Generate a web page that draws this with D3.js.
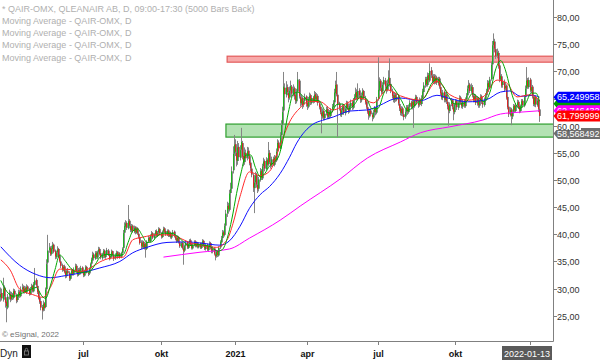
<!DOCTYPE html>
<html><head><meta charset="utf-8">
<script src="https://cdn.jsdelivr.net/npm/d3@7"></script>
<style>body{margin:0;background:#fff}svg{display:block;font-family:"Liberation Sans",Arial,sans-serif}</style>
</head><body><svg id="c" width="600" height="360"></svg>
<script>
// ---- daily OHLC (QAIR-OMX), bar 0 ~ late Mar 2020, last bar 2022-01-13 ----
const opens=[
28.4,29.2,28.0,30.2,28.4,27.6,26.5,28.8,29.0,28.1,
28.9,28.3,29.6,28.8,27.9,28.5,29.4,28.6,29.9,30.3,
29.4,30.1,29.3,30.4,29.9,29.0,30.0,30.5,29.5,30.7,
31.6,30.5,29.5,28.4,27.7,26.6,26.1,27.3,26.6,29.9,
34.8,37.1,37.5,36.4,37.3,38.1,36.9,35.8,36.7,37.3,
36.1,35.0,34.3,33.4,34.1,33.2,32.3,33.3,32.9,31.8,
32.5,33.4,32.6,33.4,34.2,33.3,32.5,33.5,32.8,33.9,
33.2,32.4,33.3,34.0,32.9,32.8,33.7,34.6,35.2,36.3,
35.5,36.6,35.7,36.8,37.3,36.5,35.6,36.4,37.0,35.8,
36.3,37.0,36.3,35.7,35.9,36.9,36.1,35.6,36.0,36.7,
36.0,36.5,35.9,36.6,37.5,40.3,41.4,42.1,41.1,42.5,
41.5,40.7,41.6,40.5,41.3,40.3,41.1,40.1,39.5,38.5,
37.7,38.6,37.5,38.3,37.3,38.7,39.4,38.7,39.8,40.2,
39.3,40.0,40.6,39.7,40.4,41.0,40.1,39.5,40.5,41.1,
40.6,39.9,40.7,39.7,40.3,39.4,40.0,40.5,39.6,39.3,
38.7,39.5,38.5,37.7,38.4,37.4,37.0,37.9,38.5,37.5,
38.1,38.9,38.2,37.4,38.1,38.7,37.8,38.4,37.6,38.3,
37.5,38.2,38.8,37.9,37.3,38.1,37.1,37.8,38.4,37.5,
36.8,37.4,36.3,36.0,36.9,36.1,37.6,38.5,39.3,40.4,
39.9,41.6,43.9,45.3,44.5,47.6,48.4,51.8,54.9,56.6,
55.0,53.5,56.1,54.1,55.6,56.8,54.4,53.3,55.0,54.1,
55.4,54.4,53.2,52.1,50.9,48.5,49.6,50.9,49.1,48.4,
50.0,51.7,50.3,52.6,53.5,52.0,53.7,52.9,55.0,53.2,
52.7,53.9,52.8,54.2,53.6,55.3,56.9,55.8,58.3,60.2,
62.8,67.0,65.7,67.1,66.0,65.2,66.5,67.2,65.8,66.9,
65.6,64.5,66.3,68.3,65.3,64.1,65.1,63.9,64.6,65.4,
64.2,63.5,64.9,65.6,64.2,65.2,64.5,65.8,64.8,65.5,
64.1,63.5,62.4,61.7,62.7,61.4,62.3,63.1,61.6,62.5,
61.8,62.9,63.4,64.3,66.0,67.6,65.7,64.1,63.1,62.0,
62.9,63.6,62.3,63.2,64.1,63.2,62.8,63.5,64.3,63.3,
64.7,65.2,66.2,65.1,66.5,65.5,64.7,65.6,66.4,65.0,
64.4,63.4,62.7,61.8,62.8,62.0,61.5,62.5,63.2,62.4,
64.9,66.5,68.3,66.9,66.3,67.6,68.3,67.2,66.6,67.9,
68.8,67.7,66.3,65.6,64.7,65.7,64.8,65.4,64.0,63.3,
62.3,63.2,62.1,61.7,62.6,63.4,62.5,63.5,64.3,63.4,
64.5,63.6,64.7,65.3,64.2,63.9,64.8,64.0,65.1,66.2,
67.5,68.6,67.5,69.3,68.3,70.2,69.2,68.1,69.1,68.0,
68.9,67.8,68.7,67.1,66.1,65.1,66.2,64.7,65.7,64.4,
63.7,62.7,64.0,64.7,63.4,62.5,63.9,64.6,63.3,64.3,
65.2,64.2,63.5,64.5,63.6,64.9,65.6,66.9,67.6,66.3,
67.1,65.5,64.7,65.5,64.1,65.0,63.7,64.7,65.4,64.3,
63.8,64.8,65.6,66.2,67.9,67.0,68.6,71.3,74.9,75.5,
74.1,72.9,73.4,71.1,68.5,69.1,67.5,68.0,66.9,67.4,
65.3,63.5,62.0,63.0,61.7,62.6,63.7,62.7,63.8,64.4,
63.6,62.7,63.5,64.6,63.7,65.3,66.9,68.4,67.1,68.5,
66.4,67.2,65.3,63.9,65.3,63.8,64.7,63.0];
const highs=[
30.2,30.0,32.0,30.6,29.0,28.0,29.0,29.8,29.5,29.4,
29.2,30.0,29.9,29.1,29.0,29.8,29.7,30.4,30.9,30.6,
30.5,30.4,30.8,30.6,30.1,30.3,30.9,30.7,31.2,33.8,
31.9,30.8,29.8,28.8,28.0,27.0,27.8,27.5,30.2,35.4,
39.9,38.4,37.8,37.9,38.6,38.3,37.2,37.0,37.8,37.5,
36.4,35.3,34.6,34.3,34.4,33.5,33.6,33.8,33.2,32.9,
33.7,33.6,33.9,34.6,34.5,33.6,33.8,33.9,34.2,34.1,
33.4,33.5,34.3,34.2,33.2,33.9,34.8,35.7,36.8,36.6,
36.9,36.9,37.0,37.7,37.6,36.8,36.6,37.3,37.2,36.8,
37.5,37.3,36.5,36.4,37.2,37.0,36.4,36.5,37.0,36.9,
36.8,36.7,36.8,37.6,40.8,42.2,42.6,42.4,45.4,42.8,
41.8,41.9,41.8,41.6,41.5,41.4,41.3,40.5,39.8,38.9,
38.9,38.8,38.6,38.5,38.9,39.7,39.6,40.0,40.6,40.4,
40.2,40.8,40.9,40.6,41.3,41.2,40.4,40.7,41.4,41.3,
40.8,40.9,40.9,40.5,40.5,40.2,40.8,40.7,39.9,39.5,
39.8,39.7,38.8,38.6,38.6,37.8,38.1,38.8,38.7,38.5,
39.1,39.2,38.4,38.3,38.9,38.9,38.6,38.6,38.5,38.5,
38.5,39.1,39.0,38.2,38.3,38.3,38.0,38.7,38.6,37.8,
37.8,37.6,36.6,37.1,37.1,37.8,38.9,39.7,40.8,40.7,
42.0,44.5,46.0,45.8,48.2,49.5,52.5,56.2,58.3,57.5,
56.3,57.2,56.8,56.4,59.6,57.2,55.0,56.0,55.6,56.1,
56.0,54.9,53.7,52.6,51.2,50.3,51.5,51.3,49.8,50.6,
52.2,52.0,53.0,54.1,53.8,54.2,54.0,57.0,55.5,53.9,
54.3,54.3,54.6,54.5,55.8,57.5,57.3,58.8,61.0,63.5,
69.9,67.8,68.2,67.6,66.6,67.2,68.3,67.5,67.6,67.2,
66.0,66.8,69.9,68.6,65.9,65.7,65.4,65.0,65.9,65.6,
64.6,65.3,66.1,65.9,65.6,65.5,66.4,66.2,66.0,65.8,
64.5,63.8,62.9,63.2,63.0,62.6,63.5,63.6,62.8,62.9,
63.2,64.0,64.7,66.8,68.3,69.9,66.0,64.4,63.4,63.3,
64.0,63.9,63.6,64.6,64.5,63.6,64.1,64.8,64.6,65.1,
65.8,67.0,66.7,67.8,66.9,66.0,66.1,66.9,66.6,65.5,
64.7,63.8,63.2,63.1,63.2,62.4,62.9,63.6,63.4,65.3,
72.6,68.9,68.6,67.4,68.0,69.0,68.8,67.6,68.5,70.2,
72.4,68.0,66.8,66.0,66.1,66.0,65.9,65.8,64.5,63.6,
63.6,63.5,62.6,63.0,63.8,63.8,63.9,64.7,64.6,64.9,
64.9,65.0,65.7,65.6,64.6,65.2,65.0,65.6,66.8,68.0,
69.0,69.0,69.8,69.7,71.5,70.8,69.6,69.5,69.5,69.4,
69.2,69.0,69.0,67.5,66.6,66.6,66.5,66.1,66.0,64.8,
64.1,64.3,65.1,64.9,63.8,64.2,64.9,64.8,64.6,65.6,
65.5,64.6,64.8,64.9,65.2,66.0,67.4,68.4,67.9,67.8,
67.5,66.0,65.9,65.8,65.4,65.3,65.0,65.8,65.7,64.8,
65.2,66.0,66.8,68.4,68.3,69.0,71.8,75.6,77.0,76.0,
74.5,74.2,73.8,71.5,69.9,69.5,68.6,68.5,67.9,67.6,
65.6,63.8,63.4,63.3,62.9,64.0,63.9,64.2,64.8,64.7,
63.9,63.9,64.9,64.9,65.6,67.4,70.8,68.8,68.9,68.8,
67.6,67.5,65.6,65.6,65.5,65.0,65.0,63.3];
const lows=[
27.6,27.8,27.6,28.0,26.5,23.8,26.2,28.0,27.5,27.8,
27.9,28.0,28.5,27.3,27.5,28.2,28.3,28.4,29.4,29.1,
29.1,29.2,29.0,29.5,28.7,28.8,29.8,29.3,29.3,30.4,
30.2,29.0,28.0,27.2,26.0,24.3,25.8,25.9,26.4,29.6,
34.5,36.6,36.0,36.1,37.0,36.5,35.4,35.5,36.3,35.7,
34.8,33.8,33.1,33.2,32.8,31.9,32.0,32.5,31.4,31.5,
32.3,32.4,32.4,33.1,33.0,32.2,32.3,32.6,32.6,32.8,
32.1,32.2,33.0,32.8,32.3,32.5,33.4,34.3,35.0,35.2,
35.3,35.5,35.4,36.5,36.1,35.4,35.3,36.1,35.6,35.5,
36.0,36.0,35.2,35.4,35.7,35.9,35.1,35.3,35.8,35.5,
35.7,35.5,35.6,36.4,37.3,39.8,41.0,40.8,40.9,41.2,
40.4,40.4,40.3,40.2,40.0,40.1,39.9,39.2,38.1,37.3,
37.4,37.3,37.2,35.7,37.1,38.5,38.5,38.5,39.5,39.1,
39.0,39.8,39.5,39.5,40.1,39.9,39.2,39.3,40.2,40.2,
39.7,39.7,39.5,39.5,39.2,39.1,39.8,39.4,38.9,38.4,
38.5,38.3,37.5,37.5,37.2,34.4,36.7,37.6,37.3,37.3,
37.9,37.9,37.2,37.2,37.8,37.6,37.6,37.4,37.4,37.3,
37.3,37.9,37.7,37.1,37.0,36.9,36.8,37.5,37.2,36.5,
36.5,36.1,35.2,35.7,35.8,35.9,37.3,38.2,39.0,39.4,
39.6,41.2,43.2,43.8,44.2,46.8,48.0,51.2,54.2,54.4,
52.5,52.8,53.5,53.6,55.0,53.8,52.5,52.8,53.4,53.6,
53.9,52.7,51.6,50.5,47.8,43.9,49.0,48.6,47.6,47.9,
49.7,50.0,50.0,52.2,51.6,51.8,52.3,52.6,53.0,52.1,
52.4,52.6,52.5,53.1,53.3,55.0,55.5,55.6,57.8,59.8,
62.5,65.0,65.2,65.6,64.3,64.8,66.0,65.3,65.4,64.8,
64.0,64.1,66.0,65.0,63.5,63.7,63.1,63.4,64.1,63.5,
62.9,63.2,64.5,63.8,63.9,64.1,64.2,64.4,64.3,63.7,
63.0,62.1,58.6,61.3,61.0,61.0,61.9,61.2,61.2,61.3,
61.5,62.5,63.0,63.9,65.6,65.4,57.9,62.8,61.7,61.6,
62.5,62.0,61.9,62.8,62.9,62.2,62.4,63.1,62.9,63.0,
64.2,64.8,64.7,64.8,65.2,64.2,64.3,65.1,64.8,63.9,
63.1,62.2,61.1,61.5,61.7,60.8,61.2,62.0,61.9,62.1,
64.6,66.2,66.4,65.8,66.0,67.2,66.8,65.9,66.3,67.5,
67.2,66.0,65.0,64.3,64.2,64.4,64.5,63.7,62.7,61.9,
61.8,61.7,61.0,61.3,62.1,62.0,62.2,63.0,63.0,63.0,
59.6,63.3,64.2,63.9,63.3,63.5,63.8,63.6,64.8,65.9,
67.0,67.2,67.2,67.9,68.0,68.8,67.8,67.7,67.6,67.7,
67.5,67.4,66.8,65.6,64.8,64.7,64.3,64.3,64.0,63.0,
60.0,62.3,63.6,63.0,61.0,62.1,63.5,62.9,62.9,63.9,
63.9,63.2,63.1,63.3,63.3,64.5,65.3,66.5,66.0,65.9,
65.2,64.3,64.3,63.8,63.7,63.3,63.3,64.2,64.0,63.3,
63.5,64.4,65.2,65.9,66.6,66.8,68.3,70.8,74.1,73.5,
72.3,72.4,70.5,68.0,68.2,67.0,67.0,66.3,66.5,64.8,
63.0,61.6,61.7,60.1,61.2,62.2,62.4,62.4,63.4,63.1,
62.3,62.4,63.2,63.4,63.4,65.0,66.5,66.8,66.8,66.1,
66.0,65.0,63.6,63.5,63.4,63.5,62.5,60.7];
const closes=[
29.0,28.2,30.0,28.6,27.4,26.8,28.5,29.2,28.0,28.8,
28.4,29.5,28.9,27.8,28.6,29.3,28.7,29.8,30.2,29.5,
30.0,29.4,30.3,29.8,29.1,29.9,30.4,29.6,30.8,31.5,
30.6,29.4,28.3,27.6,26.5,26.0,27.2,26.4,29.8,34.5,
37.0,37.6,36.3,37.4,38.0,36.8,35.9,36.6,37.2,36.0,
35.1,34.2,33.5,34.0,33.1,32.4,33.2,32.8,31.9,32.6,
33.3,32.7,33.5,34.1,33.2,32.6,33.4,32.9,33.8,33.1,
32.5,33.2,33.9,33.0,32.7,33.6,34.5,35.3,36.2,35.6,
36.5,35.8,36.7,37.2,36.4,35.7,36.3,36.9,35.9,36.4,
37.1,36.2,35.6,36.0,36.8,36.2,35.5,36.1,36.6,35.9,
36.4,35.8,36.5,37.3,40.2,41.5,42.0,41.2,42.4,41.6,
40.8,41.5,40.6,41.2,40.4,41.0,40.2,39.6,38.4,37.8,
38.5,37.6,38.2,37.4,38.6,39.3,38.8,39.7,40.1,39.4,
39.9,40.5,39.8,40.3,40.9,40.2,39.6,40.4,41.0,40.5,
40.0,40.6,39.8,40.2,39.5,39.9,40.4,39.7,39.2,38.8,
39.4,38.6,37.8,38.3,37.5,36.9,37.8,38.4,37.6,38.2,
38.8,38.1,37.5,38.0,38.6,37.9,38.3,37.7,38.2,37.6,
38.1,38.7,38.0,37.4,38.0,37.2,37.7,38.3,37.6,36.9,
37.3,36.4,35.9,36.8,36.2,37.5,38.6,39.2,40.3,39.8,
41.5,43.8,45.2,44.6,47.5,48.3,51.6,54.8,56.5,55.2,
53.6,56.0,54.2,55.5,57.0,54.3,53.2,55.1,54.0,55.3,
54.5,53.1,52.2,51.0,48.6,49.5,50.8,49.2,48.3,50.1,
51.6,50.4,52.5,53.4,52.1,53.6,52.8,54.9,53.3,52.6,
53.8,52.9,54.1,53.5,55.2,56.8,55.9,58.2,60.1,62.5,
67.2,65.8,67.0,66.2,65.1,66.4,67.3,65.9,66.8,65.5,
64.6,66.2,68.5,65.4,64.2,65.0,63.8,64.5,65.3,64.1,
63.6,64.8,65.5,64.3,65.1,64.6,65.7,64.9,65.4,64.2,
63.4,62.5,61.8,62.6,61.5,62.2,63.0,61.7,62.4,61.9,
62.8,63.5,64.2,66.1,67.5,65.8,64.0,63.2,62.1,62.8,
63.5,62.4,63.1,64.0,63.3,62.7,63.6,64.2,63.4,64.6,
65.3,66.1,65.2,66.4,65.6,64.8,65.5,66.3,65.1,64.3,
63.5,62.6,61.9,62.7,62.1,61.6,62.4,63.1,62.5,64.8,
66.6,68.2,67.0,66.2,67.5,68.4,67.3,66.5,67.8,68.9,
67.6,66.4,65.5,64.8,65.6,64.9,65.3,64.1,63.2,62.4,
63.1,62.2,61.6,62.5,63.3,62.6,63.4,64.2,63.5,64.4,
63.7,64.6,65.2,64.3,63.8,64.7,64.1,65.0,66.3,67.4,
68.5,67.6,69.2,68.4,70.1,69.3,68.2,69.0,68.1,68.8,
67.9,68.6,67.2,66.0,65.2,66.1,64.8,65.6,64.5,63.6,
62.8,63.9,64.6,63.5,62.6,63.8,64.5,63.4,64.2,65.1,
64.3,63.6,64.4,63.7,64.8,65.5,66.8,67.5,66.4,67.2,
65.6,64.8,65.4,64.2,64.9,63.8,64.6,65.3,64.4,63.9,
64.7,65.5,66.3,67.8,67.1,68.5,71.2,74.8,75.6,74.2,
72.8,73.5,71.0,68.6,69.2,67.4,68.1,66.8,67.3,65.2,
63.4,62.1,62.9,61.8,62.5,63.6,62.8,63.7,64.3,63.5,
62.8,63.6,64.5,63.8,65.2,66.8,68.3,67.2,68.4,66.5,
67.1,65.4,64.0,65.2,63.9,64.6,63.1,61.8];

// ---- moving averages: [bar index, value] ----
const maGreen=[[0,31.5],[5,29.5],[10,28.6],[15,28.8],[20,29.4],[25,29.8],[30,30.2],[35,28.6],[38,28.2],[42,30.5],[46,33.5],[50,36.2],[55,35.0],[60,33.6],[65,33.0],[70,33.0],[75,33.1],[80,34.4],[85,36.0],[90,36.3],[95,36.2],[100,36.1],[104,36.3],[108,38.5],[112,40.6],[116,41.0],[120,39.8],[124,38.5],[128,38.6],[132,39.5],[138,40.2],[144,40.2],[150,39.6],[155,38.6],[160,37.9],[166,38.1],[172,38.0],[178,37.7],[184,36.9],[188,37.2],[192,39.2],[196,42.8],[200,47.5],[204,51.5],[208,54.6],[212,54.6],[216,52.3],[220,50.6],[224,51.2],[228,52.6],[232,53.3],[236,54.5],[240,58.0],[244,62.5],[248,65.8],[252,66.2],[256,65.5],[260,64.8],[265,64.7],[270,64.6],[275,62.8],[280,62.3],[285,63.9],[290,64.0],[295,63.1],[300,63.9],[305,65.3],[310,65.0],[315,63.1],[320,63.2],[325,66.0],[330,67.6],[335,66.4],[340,64.6],[345,62.8],[350,63.5],[355,64.5],[360,65.3],[365,67.6],[370,68.6],[375,67.4],[380,65.4],[385,64.0],[390,64.0],[395,64.4],[400,65.9],[405,65.2],[410,64.4],[415,66.2],[420,70.5],[424,72.0],[428,70.3],[432,67.0],[436,64.3],[440,63.2],[445,64.0],[450,66.0],[454,66.0],[457,64.5]];
const maRed=[[0,35.3],[8,33.4],[16,29.9],[27,28.9],[36,28.4],[42,30.2],[50,33.6],[59,33.5],[67,33.1],[76,33.8],[84,34.9],[93,35.6],[104,35.8],[112,39.0],[121,39.5],[132,39.9],[144,39.9],[152,39.3],[160,38.5],[169,38.0],[183,37.6],[192,39.0],[197,42.0],[203,47.0],[211,51.5],[220,50.8],[228,51.6],[237,56.4],[245,60.7],[254,63.3],[262,64.5],[271,64.4],[282,62.9],[294,64.2],[305,65.1],[316,64.2],[328,66.6],[339,65.5],[356,64.7],[370,68.2],[381,65.7],[396,64.7],[409,65.3],[421,68.4],[429,67.9],[438,65.3],[449,65.7],[457,64.7]];
const maBlue=[[0,37.7],[16,34.3],[30,32.6],[42,32.0],[55,32.4],[68,32.9],[84,33.8],[101,35.0],[112,36.6],[124,37.6],[141,38.5],[158,38.6],[169,38.4],[186,38.0],[194,38.8],[203,41.5],[211,44.8],[220,47.3],[228,48.8],[237,51.2],[245,54.2],[251,56.8],[265,60.3],[273,61.0],[282,61.6],[296,62.7],[311,62.9],[322,63.8],[333,64.9],[339,65.1],[356,64.6],[370,65.6],[381,65.0],[396,64.4],[412,64.8],[424,66.2],[432,66.4],[441,65.4],[451,65.6],[457,65.25]];
const maMagenta=[[138,35.8],[169,36.7],[194,37.3],[211,39.3],[237,42.6],[254,45.2],[288,50.2],[311,54.05],[339,57.0],[356,58.7],[381,59.8],[409,61.05],[424,62.15],[441,62.5],[457,62.75]];

// zones: [start bar, low, high]
const resistance=[192,71.7,72.8];
const support=[191,57.9,60.3];

const xTickIdx=[70,136,199,260,320,385,449];
const xTickLabels=["jul","okt","2021","apr","jul","okt",""];
const yTickValues=[25,30,35,40,45,50,55,60,65,70,75,80];
const lastDateLabel="2022-01-13";
const legendLines=["* QAIR-OMX, QLEANAIR AB, D, 09:00-17:30 (5000 Bars Back)","Moving Average - QAIR-OMX, D","Moving Average - QAIR-OMX, D","Moving Average - QAIR-OMX, D","Moving Average - QAIR-OMX, D"];
// price tags on the right axis (green one is hidden under the others)
const tagValues=[58.568492,64.05,65.249958,62.746432,61.799999];
const tagTexts=["58,568492","","65,249958","62,746432","61,799999"];
const tagColors=["#6e6e6e","#00a000","#0000ff","#ff00ff","#ff0000"];

// ---- drawing ----
const svg=d3.select("#c");
const W=553,H=341;
const x=d3.scaleLinear().domain([0,closes.length-1]).range([0.8,539.5]);
const y=d3.scaleLinear().domain([25,80]).range([315.75,17.1]);
const loc=d3.formatLocale({decimal:",",thousands:" ",grouping:[3],currency:["",""]});
const f2=loc.format(".2f");

svg.append("rect").attr("width",600).attr("height",360).attr("fill","#fff");
svg.append("defs").append("clipPath").attr("id","pc").append("rect").attr("width",W).attr("height",H);
const plot=svg.append("g").attr("clip-path","url(#pc)");

// legend
svg.append("g").selectAll("text").data(legendLines).join("text")
 .attr("x",2).attr("y",(d,i)=>11.5+i*12.3).attr("font-size",9).attr("fill","#b0b0b0").text(d=>d);

// zones
function zone(z,fill,stroke){
  plot.append("rect").attr("x",x(z[0])).attr("y",y(z[2])).attr("width",W+5-x(z[0]))
   .attr("height",y(z[1])-y(z[2])).attr("fill",fill).attr("stroke",stroke).attr("stroke-width",1.2);
}
zone(support,"#b3e2b3","#2e9e2e");
zone(resistance,"#f7a9a9","#e35a5a");

// candles
const bars=d3.range(closes.length);
const cg=plot.append("g");
bars.forEach(i=>{
  const cx=Math.floor(x(i))+0.5;
  cg.append("line").attr("x1",cx).attr("x2",cx).attr("y1",y(highs[i])).attr("y2",y(lows[i]))
    .attr("stroke","#858585").attr("stroke-width",1);
  const top=y(Math.max(opens[i],closes[i])),bot=y(Math.min(opens[i],closes[i]));
  const h=Math.max(1,bot-top);
  cg.append("rect").attr("x",cx-0.5).attr("width",1).attr("y",top).attr("height",h)
    .attr("fill",closes[i]>=opens[i]?"#1fb31f":"#d62828");
  cg.append("rect").attr("x",cx+0.5).attr("width",1).attr("y",top).attr("height",h)
    .attr("fill","#8a8a8a");
});

// moving averages
const line=d3.line().x(d=>x(d[0])).y(d=>y(d[1])).curve(d3.curveMonotoneX);
[[maMagenta,"#ff00ff"],[maBlue,"#1010ff"],[maRed,"#ff2a2a"],[maGreen,"#00a800"]].forEach(([d,c])=>{
  plot.append("path").datum(d).attr("d",line).attr("fill","none").attr("stroke",c).attr("stroke-width",1);
});

// frame
svg.append("line").attr("x1",0).attr("x2",W+0.5).attr("y1",H+0.5).attr("y2",H+0.5).attr("stroke","#808080");
svg.append("line").attr("x1",W+0.5).attr("x2",W+0.5).attr("y1",0).attr("y2",H+0.5).attr("stroke","#808080");

// x axis
const xa=svg.append("g");
xTickIdx.forEach((t,k)=>{
  const px=Math.round(x(t))+0.5;
  xa.append("line").attr("x1",px).attr("x2",px).attr("y1",H+1).attr("y2",H+4).attr("stroke","#808080");
  xa.append("text").attr("x",px).attr("y",357).attr("text-anchor","middle").attr("font-size",9)
    .attr("font-weight","bold").attr("fill","#111").text(xTickLabels[k]);
});
xa.append("rect").attr("x",502).attr("y",346).attr("width",50).attr("height",14).attr("fill","#5a5a5a");
xa.append("text").attr("x",527).attr("y",357).attr("text-anchor","middle").attr("font-size",9).attr("fill","#fff").text(lastDateLabel);
xa.append("text").attr("x",0).attr("y",357).attr("font-size",10).attr("fill","#222").text("Dyn");
xa.append("rect").attr("x",22).attr("y",345).attr("width",9).attr("height",13).attr("fill","#111");
xa.append("rect").attr("x",24.5).attr("y",351).attr("width",4).attr("height",4).attr("fill","none").attr("stroke","#888").attr("stroke-width",0.8);
xa.append("path").attr("d","M25.3,351 v-1.5 a1.2,1.2 0 0 1 2.4,0 v1.5").attr("fill","none").attr("stroke","#888").attr("stroke-width",0.8);
svg.append("text").attr("x",2).attr("y",337).attr("font-size",8).attr("fill","#707070").text("\u00a9 eSignal, 2022");

// y axis
function tag(k){
  const cy=y(tagValues[k]);
  svg.append("path").attr("d",`M${W+0.5},${cy} L${W+5},${cy-5.5} L602,${cy-5.5} L602,${cy+5.5} L${W+5},${cy+5.5} Z`).attr("fill",tagColors[k]);
  if(tagTexts[k]) svg.append("text").attr("x",557).attr("y",cy+3.2).attr("font-size",9).attr("fill","#fff").text(tagTexts[k]);
}
tag(0);
const ya=svg.append("g");
// tick labels that sit fully under a coloured price tag are hidden (as in the reference)
const hidden=v=>tagValues.slice(1).some(t=>Math.abs(y(t)-y(v))<3.5);
yTickValues.forEach(v=>{
  const py=Math.round(y(v))+0.5;
  ya.append("line").attr("x1",W).attr("x2",W+4).attr("y1",py).attr("y2",py).attr("stroke","#808080");
  if(hidden(v)) return;
  ya.append("text").attr("x",557).attr("y",py+3.2).attr("font-size",9).attr("fill","#333").text(f2(v));
  if(v===60){ya.insert("rect","text").attr("x",556).attr("y",py-3.5).attr("width",25).attr("height",7).attr("fill","#fff");}
});
[1,2,3,4].forEach(tag);
</script></body></html>
